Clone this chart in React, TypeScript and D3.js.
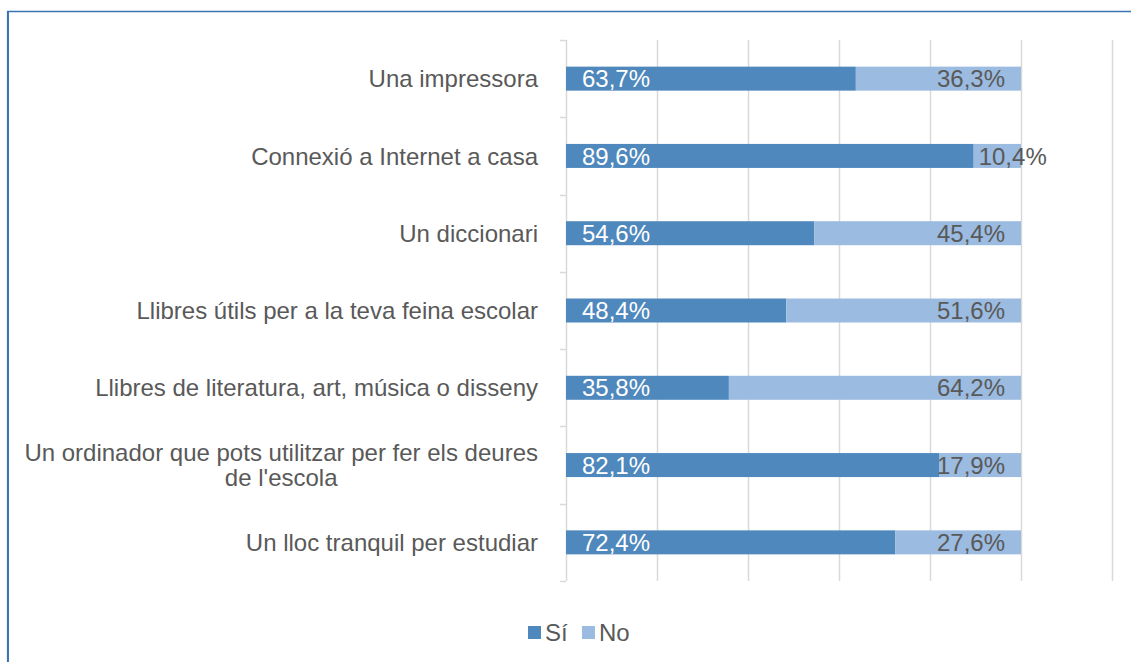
import React, { useEffect, useRef } from "react";
import * as d3 from "d3";

const categories = [
  "Una impressora",
  "Connexió a Internet a casa",
  "Un diccionari",
  "Llibres útils per a la teva feina escolar",
  "Llibres de literatura, art, música o disseny",
  "Un ordinador que pots utilitzar per fer els deures\nde l'escola",
  "Un lloc tranquil per estudiar",
];
const siValues = [63.7, 89.6, 54.6, 48.4, 35.8, 82.1, 72.4];
const noValues = [36.3, 10.4, 45.4, 51.6, 64.2, 17.9, 27.6];
const seriesNames = ["Sí", "No"];
const xTicks = [0, 20, 40, 60, 80, 100, 120];

const W = 1131;
const H = 662;
const DARK = "#4F88BD";
const LIGHT = "#9BBBE0";
const TEXT = "#595959";
const GRID = "#D9D9D9";
const FONT = "'Liberation Sans', Arial, sans-serif";

const fmt = (v: number) => v.toFixed(1).replace(".", ",") + "%";

export default function App() {
  const ref = useRef<SVGSVGElement | null>(null);

  useEffect(() => {
    const svg = d3.select(ref.current);
    svg.selectAll("*").remove();

    const x = d3.scaleLinear().domain([0, 120]).range([566, 1112]);
    const y = d3
      .scaleBand<number>()
      .domain(d3.range(categories.length))
      .range([40, 581])
      .paddingInner(0)
      .paddingOuter(0);
    const barH = 24;

    // border
    svg
      .append("path")
      .attr("d", `M8,${H + 5} L8,11.5 L${W + 5},11.5`)
      .attr("fill", "none")
      .attr("stroke", "#3A74B0")
      .attr("stroke-width", 1.5);
    svg
      .append("line")
      .attr("x1", 7.9)
      .attr("x2", 7.9)
      .attr("y1", 11)
      .attr("y2", H + 5)
      .attr("stroke", "#3A74B0")
      .attr("stroke-width", 2);

    // gridlines
    const g = svg.append("g");
    g.selectAll("line.grid")
      .data(xTicks)
      .enter()
      .append("line")
      .attr("x1", (d) => Math.round(x(d)) + 0.5)
      .attr("x2", (d) => Math.round(x(d)) + 0.5)
      .attr("y1", 40)
      .attr("y2", 581)
      .attr("stroke", GRID)
      .attr("stroke-width", 1.5);

    // category ticks
    const bounds = d3.range(categories.length + 1).map((i) =>
      i < categories.length ? (y(i) as number) : (y(categories.length - 1) as number) + y.bandwidth()
    );
    g.selectAll("line.tick")
      .data(bounds)
      .enter()
      .append("line")
      .attr("x1", 560)
      .attr("x2", 566)
      .attr("y1", (d) => Math.round(d) + 0.5)
      .attr("y2", (d) => Math.round(d) + 0.5)
      .attr("stroke", GRID)
      .attr("stroke-width", 1.5);

    // bars
    const rows = categories.map((c, i) => ({ i, si: siValues[i], no: noValues[i] }));
    const cy = (i: number) => (y(i) as number) + y.bandwidth() / 2;

    const bars = svg.append("g");
    rows.forEach((r) => {
      const yc = cy(r.i);
      bars
        .append("rect")
        .attr("x", x(0))
        .attr("y", yc - barH / 2)
        .attr("width", x(r.si) - x(0))
        .attr("height", barH)
        .attr("fill", DARK);
      bars
        .append("rect")
        .attr("x", x(r.si))
        .attr("y", yc - barH / 2)
        .attr("width", x(r.si + r.no) - x(r.si))
        .attr("height", barH)
        .attr("fill", LIGHT);
    });

    // labels
    const labels = svg.append("g").attr("font-family", FONT).attr("font-size", 24);
    rows.forEach((r) => {
      const yc = cy(r.i);
      labels
        .append("text")
        .attr("x", x(0) + 16)
        .attr("y", yc)
        .attr("dy", "0.36em")
        .attr("fill", "#FFFFFF")
        .text(fmt(r.si));
      const t = labels
        .append("text")
        .attr("y", yc)
        .attr("dy", "0.36em")
        .attr("fill", TEXT)
        .text(fmt(r.no));
      const tw = (t.node() as SVGTextElement).getComputedTextLength();
      const segW = x(r.si + r.no) - x(r.si);
      if (segW >= tw + 8) {
        t.attr("x", x(r.si + r.no) - 16).attr("text-anchor", "end");
      } else {
        t.attr("x", x(r.si) + 5).attr("text-anchor", "start");
      }
    });

    // category labels
    const cat = svg.append("g").attr("font-family", FONT).attr("font-size", 24).attr("fill", TEXT);
    const rightX = 538;
    categories.forEach((c, i) => {
      const lines = c.split("\n");
      const yc = cy(i);
      const lh = 25.5;
      const texts = lines.map((ln, k) =>
        cat
          .append("text")
          .attr("y", yc + (k - (lines.length - 1) / 2) * lh)
          .attr("dy", "0.36em")
          .text(ln)
      );
      const widths = texts.map((t) => (t.node() as SVGTextElement).getComputedTextLength());
      const maxW = Math.max(...widths);
      texts.forEach((t) => t.attr("x", rightX - maxW / 2).attr("text-anchor", "middle"));
    });

    // legend
    const leg = svg.append("g").attr("font-family", FONT).attr("font-size", 24).attr("fill", TEXT);
    const legColors = [DARK, LIGHT];
    const legX = [528, 582];
    seriesNames.forEach((s, k) => {
      leg
        .append("rect")
        .attr("x", legX[k])
        .attr("y", 626)
        .attr("width", 13)
        .attr("height", 13)
        .attr("fill", legColors[k]);
      leg
        .append("text")
        .attr("x", legX[k] + 17)
        .attr("y", 632.5)
        .attr("dy", "0.36em")
        .text(s);
    });
  }, []);

  return (
    <svg
      ref={ref}
      width={W}
      height={H}
      style={{ position: "absolute", left: 0, top: 0, background: "#FFFFFF" }}
    />
  );
}
